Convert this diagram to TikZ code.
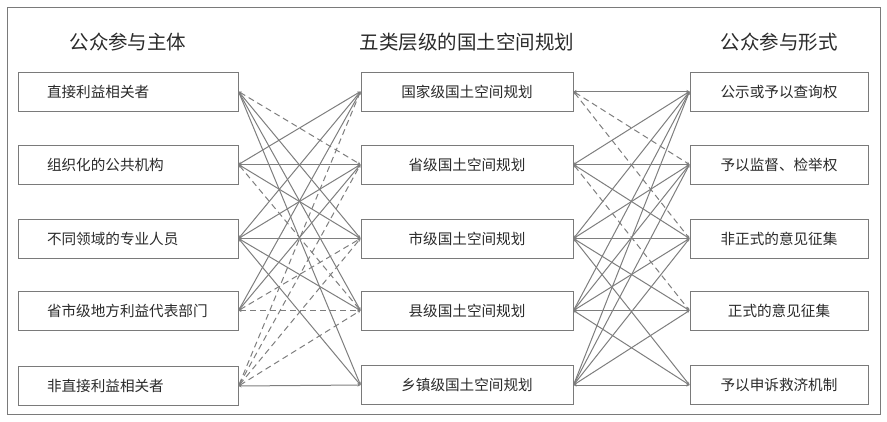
\documentclass[tikz,border=0pt]{standalone}
\usepackage{fontspec}
\newfontfamily\cjk{Noto Sans CJK SC}
\usetikzlibrary{arrows.meta}
\definecolor{boxgray}{HTML}{7A7A7A}
\definecolor{linegray}{HTML}{7E7E7E}
\definecolor{txt}{HTML}{2A2A2A}
\begin{document}
\begin{tikzpicture}[x=1pt,y=-1pt,
  every node/.style={font=\cjk\fontsize{14.6pt}{17pt}\selectfont, text=txt},
  boxbase/.style={draw=boxgray, line width=1pt, fill=white, minimum height=39pt},
  lbox/.style={boxbase, minimum width=220pt, text width=162pt, inner xsep=29pt, align=left},
  mbox/.style={boxbase, minimum width=212pt, align=center},
  rbox/.style={boxbase, minimum width=178pt, align=center},
  ttl/.style={font=\cjk\fontsize{19.5pt}{22pt}\selectfont},
  conn/.style={draw=linegray, line width=1pt, {Stealth[length=3pt,width=3pt]}-{Stealth[length=3pt,width=3pt]}},
  dconn/.style={conn, dash pattern=on 6pt off 4pt}
]
\useasboundingbox (0,0) rectangle (887,421);
\draw[draw=boxgray, line width=1pt] (7,7) rectangle (880,414);

\node[ttl] (T1) at (128,42) {公众参与主体};
\node[ttl] (T2) at (467,42) {五类层级的国土空间规划};
\node[ttl] (T3) at (779,42) {公众参与形式};

% left column
\node[lbox] (L1) at (128,91.5) {直接利益相关者};
\node[lbox] (L2) at (128,164.5) {组织化的公共机构};
\node[lbox] (L3) at (128,238.5) {不同领域的专业人员};
\node[lbox] (L4) at (128,310.5) {省市级地方利益代表部门};
\node[lbox] (L5) at (128,386) {非直接利益相关者};
% middle column
\node[mbox] (M1) at (467,91.5) {国家级国土空间规划};
\node[mbox] (M2) at (467,164.5) {省级国土空间规划};
\node[mbox] (M3) at (467,238.5) {市级国土空间规划};
\node[mbox] (M4) at (467,310.5) {县级国土空间规划};
\node[mbox] (M5) at (467,385) {乡镇级国土空间规划};
% right column
\node[rbox] (R1) at (779,91.5) {公示或予以查询权};
\node[rbox] (R2) at (779,164.5) {予以监督、检举权};
\node[rbox] (R3) at (779,238.5) {非正式的意见征集};
\node[rbox] (R4) at (779,310.5) {正式的意见征集};
\node[rbox] (R5) at (779,385) {予以申诉救济机制};

% left-to-middle connectors
\foreach \a/\b in {1/3,1/4,1/5, 2/1,2/2,2/3, 3/1,3/2,3/3,3/4,3/5, 4/1,4/2, 5/5}
  \draw[conn] (L\a.east) -- (M\b.west);
\foreach \a/\b in {1/2, 2/4, 4/3,4/4, 5/1,5/2,5/3,5/4}
  \draw[dconn] (L\a.east) -- (M\b.west);

% middle-to-right connectors
\foreach \a/\b in {1/1, 2/1,2/2,2/3, 3/1,3/2,3/3,3/4,3/5, 4/1,4/2,4/3,4/4,4/5, 5/1,5/2,5/3,5/4,5/5}
  \draw[conn] (M\a.east) -- (R\b.west);
\foreach \a/\b in {1/2,1/3, 2/4}
  \draw[dconn] (M\a.east) -- (R\b.west);
\end{tikzpicture}
\end{document}
